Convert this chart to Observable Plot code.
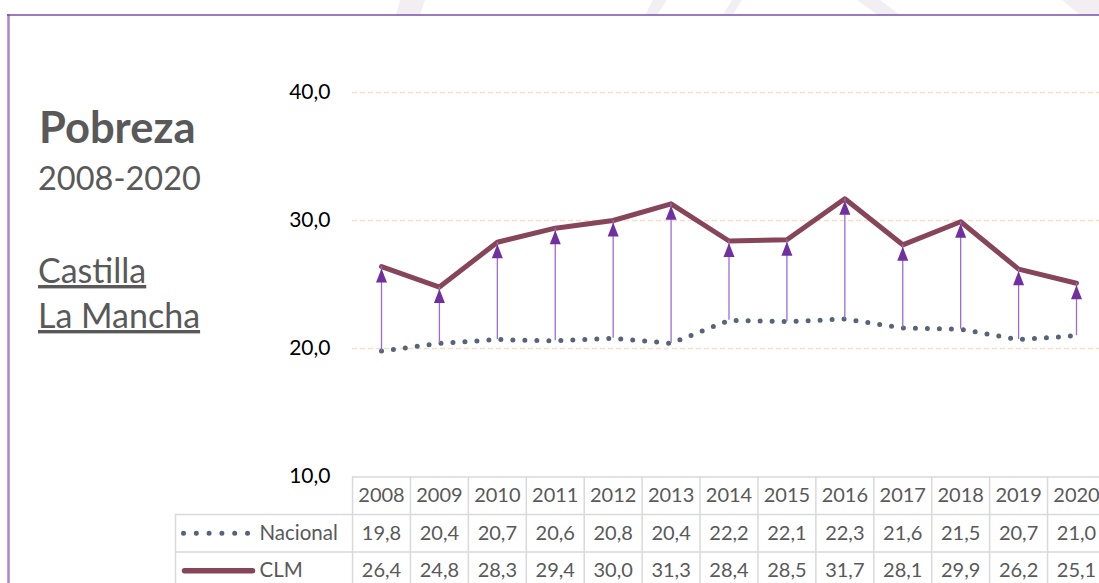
<!DOCTYPE html>
<html><head><meta charset="utf-8">
<script src="https://cdn.jsdelivr.net/npm/d3@7"></script>
<script src="https://cdn.jsdelivr.net/npm/@observablehq/plot@0.6"></script>
<style>
body{margin:0;background:#fff;}
#root{position:relative;width:1099px;height:583px;overflow:hidden;background:#fff;font-family:Lato,"Open Sans",sans-serif;}
#root > svg{position:absolute;left:0;top:0;}
.ttl{font-family:Lato,"Open Sans",sans-serif;fill:#595959;}
</style></head><body><div id="root">
<svg id="bg" width="1099" height="583">
  <g fill="#f1eff1">
    <polygon points="396,15 420,15 425,0 400,0"/>
    <polygon points="645,15 657,15 667,0 653,0"/>
    <polygon points="723,15 733,15 742,0 732,0"/>
    <polygon points="857,0 880,0 900,15 878,15"/>
    <polygon points="1062,0 1099,0 1099,15 1080,15"/>
  </g>
  <line x1="8.5" y1="14" x2="8.5" y2="583" stroke="#a985d0" stroke-width="2.5"/>
  <line x1="7" y1="15" x2="1099" y2="15" stroke="#7a4eaa" stroke-width="1.6"/>
  <text class="ttl" x="39" y="143" font-weight="700" font-size="43.5">Pobreza</text>
  <text class="ttl" x="38" y="190" font-size="32.5">2008-2020</text>
  <text class="ttl" x="38" y="283" font-size="34" text-decoration="underline">Castilla</text>
  <text class="ttl" x="38" y="328" font-size="34" text-decoration="underline">La Mancha</text>
</svg>
</div>
<script>
const years = [2008, 2009, 2010, 2011, 2012, 2013, 2014, 2015, 2016, 2017, 2018, 2019, 2020];
const nacional = [19.8, 20.4, 20.7, 20.6, 20.8, 20.4, 22.2, 22.1, 22.3, 21.6, 21.5, 20.7, 21.0];
const clm = [26.4, 24.8, 28.3, 29.4, 30.0, 31.3, 28.4, 28.5, 31.7, 28.1, 29.9, 26.2, 25.1];
const yTicks = [10, 20, 30, 40];
const seriesNames = ["Nacional", "CLM"];

const rows = years.map((year, i) => ({year, nac: nacional[i], clm: clm[i]}));
const fmt = v => v.toFixed(1).replace(".", ",");
const font = "Lato, 'Open Sans', sans-serif";
const cNac = "#56647a", cClm = "#874559", cArrow = "#7030a0", cGrid = "#d9d9d9", cText = "#595959";

const xScale = {domain: [2008, 2020], range: [381, 1076], axis: null};

const arrowHead = {draw(ctx) { ctx.moveTo(0, 2); ctx.lineTo(5.5, 16); ctx.lineTo(-5.5, 16); ctx.closePath(); }};
const dottedSample = {draw(ctx) { ctx.moveTo(-32, 0); ctx.lineTo(32.5, 0); }};
const solidSample = {draw(ctx) { ctx.moveTo(-34, 0); ctx.lineTo(34, 0); }};

const chart = Plot.plot({
  width: 1099, height: 583,
  marginLeft: 352, marginRight: 0, marginTop: 0, marginBottom: 0,
  style: {background: "transparent", fontFamily: font},
  x: xScale,
  y: {domain: [10, 40], range: [476, 92]},
  marks: [
    Plot.ruleY(yTicks.filter(t => t > 10), {stroke: "#fbdcc6", strokeWidth: 1.5, strokeDasharray: "5 3"}),
    Plot.axisY(yTicks, {anchor: "left", tickSize: 0, tickPadding: 22, tickFormat: fmt, fontSize: 21, color: "#000", label: null}),
    Plot.line(rows, {x: "year", y: "nac", stroke: cNac, strokeWidth: 5, strokeDasharray: "0 12", strokeLinecap: "round"}),
    Plot.line(rows, {x: "year", y: "clm", stroke: cClm, strokeWidth: 5}),
    Plot.ruleX(rows, {x: "year", y1: "nac", y2: "clm", stroke: "#9c6dd0", strokeWidth: 1.3}),
    Plot.dot(rows, {x: "year", y: "clm", symbol: arrowHead, r: 5, fill: cArrow, stroke: "none"})
  ]
});

const boundaries = years.map(y => y - 0.5).concat([years[years.length - 1] + 0.5]);

const table = Plot.plot({
  width: 1099, height: 583,
  marginLeft: 175, marginRight: 0, marginTop: 514, marginBottom: 0,
  style: {background: "transparent", fontFamily: font},
  x: xScale,
  y: {domain: [1, 3], range: [514, 589], axis: null},
  marks: [
    Plot.ruleY([1, 2], {y: d => d, stroke: cGrid, strokeWidth: 1.5}),
    Plot.ruleY([0], {y: d => d, x1: () => boundaries[0], x2: () => boundaries[boundaries.length - 1], stroke: cGrid, strokeWidth: 1.5}),
    Plot.ruleX(boundaries, {x: d => d, y1: () => 0, y2: () => 3, stroke: cGrid, strokeWidth: 1.5}),
    Plot.frame({anchor: "left", stroke: cGrid, strokeWidth: 1.5}),
    Plot.text(years, {x: d => d, y: () => 0.5, text: d => String(d), fontSize: 20, fill: cText}),
    Plot.text(rows, {x: "year", y: () => 1.5, text: d => fmt(d.nac), fontSize: 20, fill: cText}),
    Plot.text(rows, {x: "year", y: () => 2.5, text: d => fmt(d.clm), fontSize: 20, fill: cText}),
    Plot.text(seriesNames, {y: (d, i) => 1.5 + i, frameAnchor: "left", dx: 84, text: d => d, textAnchor: "start", fontSize: 20.5, fill: cText}),
    Plot.dot([seriesNames[0]], {y: () => 1.5, frameAnchor: "left", dx: 40, symbol: dottedSample, r: 1, fill: "none", stroke: cNac, strokeWidth: 5, strokeDasharray: "0 12.8", strokeLinecap: "round"}),
    Plot.dot([seriesNames[1]], {y: () => 2.5, frameAnchor: "left", dx: 43, symbol: solidSample, r: 1, fill: "none", stroke: cClm, strokeWidth: 5.5, strokeLinecap: "round"})
  ]
});

document.getElementById("root").append(chart, table);
</script>
</body></html>
